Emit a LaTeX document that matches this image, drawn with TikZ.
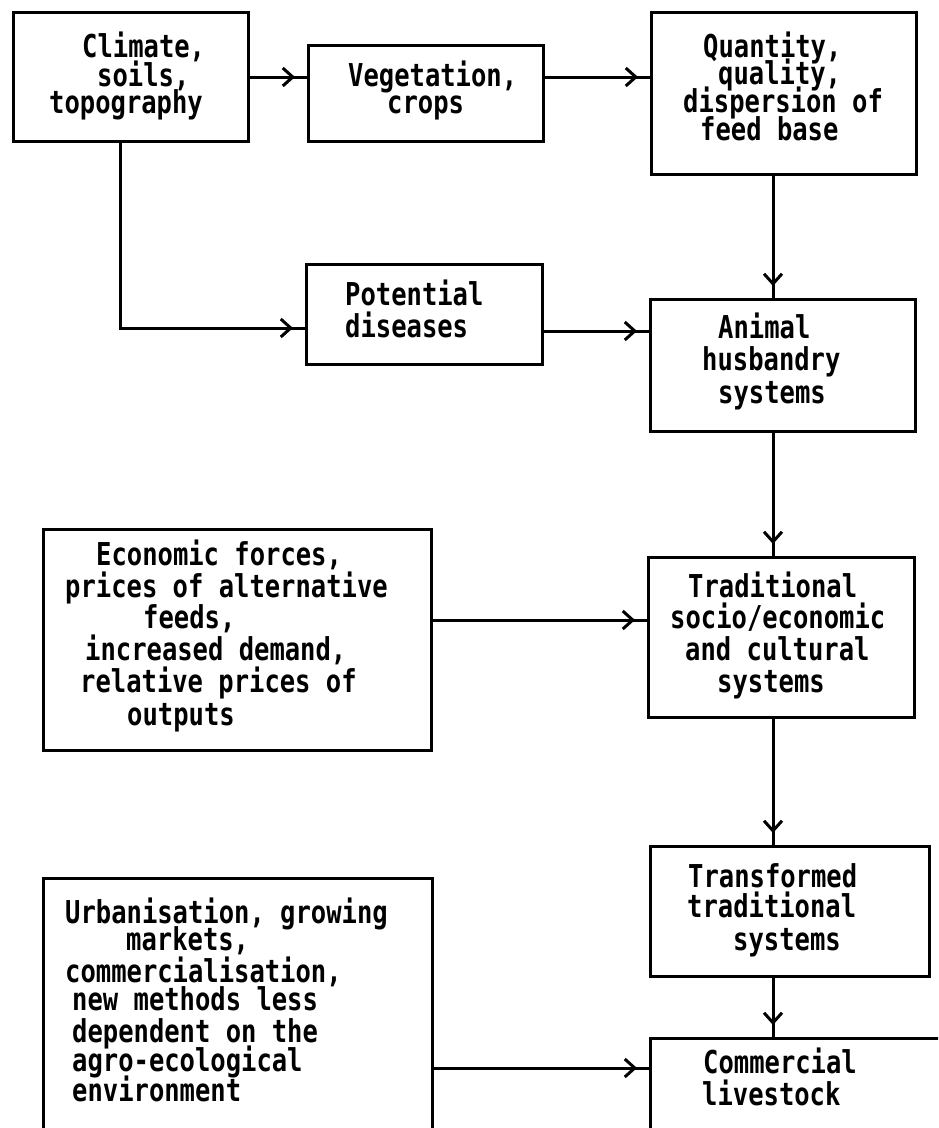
\documentclass[tikz,border=0pt]{standalone}
\usepackage{fontspec}
\newfontfamily\tfont[FakeStretch=0.81]{DejaVu Sans Mono}
\usetikzlibrary{arrows.meta,decorations.markings}
\tikzset{
  box/.style={draw, line width=3pt, rectangle, inner sep=0pt, anchor=north west},
  txt/.style={anchor=base west, inner sep=0pt, text height=22pt, text depth=5pt, font=\tfont\bfseries\fontsize{31.5}{32}\selectfont},
  flow/.style={draw, line width=3pt, postaction={decorate},
    decoration={markings, mark=at position -12pt with {\arrow{Straight Barb[length=10pt,width=18pt,line width=3pt]}}}}
}
\newcommand\tline[4]{\node[txt] (#1) at (#2,#3) {#4};}
\begin{document}
\begin{tikzpicture}[x=1pt,y=-1pt]
\useasboundingbox (0,0) rectangle (938,1128);
\begin{scope}
\clip (0,0) rectangle (938,1128);
% boxes
\node[box, minimum width=235pt, minimum height=129pt] (clim) at (12,11) {};
\node[box, minimum width=235pt, minimum height=96pt] (veg) at (307,44) {};
\node[box, minimum width=265pt, minimum height=162pt] (quan) at (650,11) {};
\node[box, minimum width=236pt, minimum height=100pt] (pot) at (305,263) {};
\node[box, minimum width=265pt, minimum height=132pt] (anim) at (649,298) {};
\node[box, minimum width=388pt, minimum height=221pt] (econ) at (42,528) {};
\node[box, minimum width=266pt, minimum height=160pt] (trad) at (647,556) {};
\node[box, minimum width=279pt, minimum height=130pt] (trans) at (649,845) {};
\node[box, minimum width=320pt, minimum height=130pt] (comm) at (649,1037) {};
\node[box, minimum width=389pt, minimum height=290pt] (urb) at (42,877) {};
% texts
\tline{clim1}{82}{57}{Climate,}
\tline{clim2}{97}{86}{soils,}
\tline{clim3}{49}{113}{topography}
\tline{veg1}{348}{86}{Vegetation,}
\tline{veg2}{387}{113}{crops}
\tline{quan1}{703}{57}{Quantity,}
\tline{quan2}{718}{84}{quality,}
\tline{quan3}{683}{112}{dispersion of}
\tline{quan4}{700}{140}{feed base}
\tline{pot1}{345}{305}{Potential}
\tline{pot2}{345}{337}{diseases}
\tline{anim1}{718}{338}{Animal}
\tline{anim2}{702}{370}{husbandry}
\tline{anim3}{718}{403}{systems}
\tline{econ1}{96}{565}{Economic forces,}
\tline{econ2}{65}{597}{prices of alternative}
\tline{econ3}{143}{628}{feeds,}
\tline{econ4}{85}{660}{increased demand,}
\tline{econ5}{80}{692}{relative prices of}
\tline{econ6}{127}{725}{outputs}
\tline{trad1}{688}{597}{Traditional}
\tline{trad2}{670}{628}{socio/economic}
\tline{trad3}{685}{660}{and cultural}
\tline{trad4}{717}{692}{systems}
\tline{trans1}{688}{887}{Transformed}
\tline{trans2}{687}{917}{traditional}
\tline{trans3}{733}{950}{systems}
\tline{comm1}{703}{1073}{Commercial}
\tline{comm2}{702}{1105}{livestock}
\tline{urb1}{65}{923}{Urbanisation, growing}
\tline{urb2}{126}{950}{markets,}
\tline{urb3}{65}{982}{commercialisation,}
\tline{urb4}{72}{1010}{new methods less}
\tline{urb5}{72}{1042}{dependent on the}
\tline{urb6}{72}{1071}{agro-ecological}
\tline{urb7}{72}{1101}{environment}
% connectors
\draw[flow] (clim.east |- 0,77) -- (veg.west |- 0,77);
\draw[flow] (veg.east |- 0,77) -- (quan.west |- 0,77);
\draw[flow] (773,0 |- quan.south) -- (773,0 |- anim.north);
\draw[flow] (120,0 |- clim.south) |- (pot.west |- 0,328);
\draw[flow] (pot.east |- 0,331) -- (anim.west |- 0,331);
\draw[flow] (773,0 |- anim.south) -- (773,0 |- trad.north);
\draw[flow] (econ.east |- 0,620) -- (trad.west |- 0,620);
\draw[flow] (773,0 |- trad.south) -- (773,0 |- trans.north);
\draw[flow] (773,0 |- trans.south) -- (773,0 |- comm.north);
\draw[flow] (urb.east |- 0,1068) -- (comm.west |- 0,1068);
\end{scope}
\end{tikzpicture}
\end{document}
